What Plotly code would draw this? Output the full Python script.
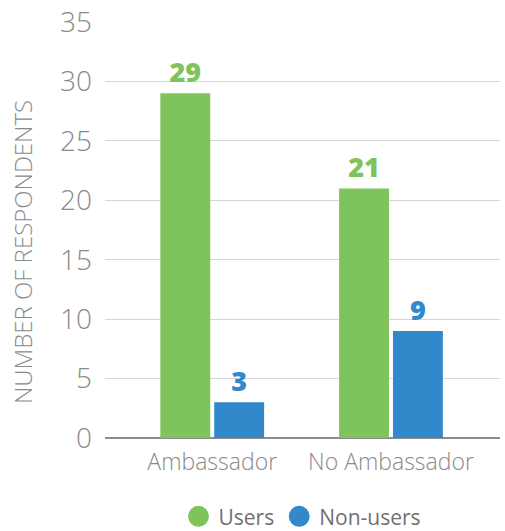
import plotly.graph_objects as go

# Survey responses by group
categories = ["Ambassador", "No Ambassador"]
users = [29, 21]
non_users = [3, 9]
y_ticks = [0, 5, 10, 15, 20, 25, 30, 35]

GREEN = "#7FC35C"
BLUE = "#3189CB"
GREY = "#8a8a8a"
FONT = "Open Sans"

fig = go.Figure()

fig.add_trace(go.Bar(
    x=categories, y=users, name="Users",
    marker=dict(color=GREEN, line=dict(width=0)),
    text=[str(v) for v in users], textposition="outside",
    textfont=dict(family=FONT, size=27, color=GREEN, weight=800),
    cliponaxis=False, showlegend=False,
))
fig.add_trace(go.Bar(
    x=categories, y=non_users, name="Non-users",
    marker=dict(color=BLUE, line=dict(width=0)),
    text=[str(v) for v in non_users], textposition="outside",
    textfont=dict(family=FONT, size=27, color=BLUE, weight=800),
    cliponaxis=False, showlegend=False,
))

# Legend entries shown as round swatches
for name, color in [("Users", GREEN), ("Non-users", BLUE)]:
    fig.add_trace(go.Scatter(
        x=[None], y=[None], mode="markers", name=name,
        marker=dict(color=color, size=16, symbol="circle",
                    line=dict(color=color, width=5)),
    ))

# Vertical axis caption, sitting a little below the plot's midpoint
fig.add_annotation(
    text="NUMBER OF RESPONDENTS", textangle=-90,
    xref="paper", yref="paper", x=-0.21, y=0.447,
    xanchor="center", yanchor="middle", showarrow=False,
    font=dict(family=FONT, size=24, color=GREY, weight=300),
)

fig.update_layout(
    width=505, height=531,
    margin=dict(l=105, r=5, t=22, b=93, autoexpand=False),
    paper_bgcolor="white", plot_bgcolor="white",
    barmode="group", bargap=0.397, bargroupgap=0.074,
    font=dict(family=FONT, color=GREY),
    legend=dict(
        orientation="h", x=0.5, xanchor="center",
        yref="container", y=0.027, yanchor="middle",
        font=dict(family=FONT, size=21, color="#707070"),
        itemsizing="trace", itemwidth=30,
    ),
    xaxis=dict(
        range=[-0.6, 1.61],
        showgrid=False, showline=False, zeroline=False,
        ticks="", ticklabelstandoff=8,
        tickfont=dict(family=FONT, size=23, color=GREY, weight=300),
    ),
    yaxis=dict(
        range=[0, 35], tickvals=y_ticks, ticktext=[str(t) for t in y_ticks],
        showgrid=True, gridcolor="#d6d6d6", gridwidth=1,
        zeroline=True, zerolinecolor="#8c8c8c", zerolinewidth=2,
        showline=False, ticks="", ticklabelstandoff=12,
        tickfont=dict(family=FONT, size=28, color=GREY, weight=300),
    ),
)

fig.write_html("out.html")
